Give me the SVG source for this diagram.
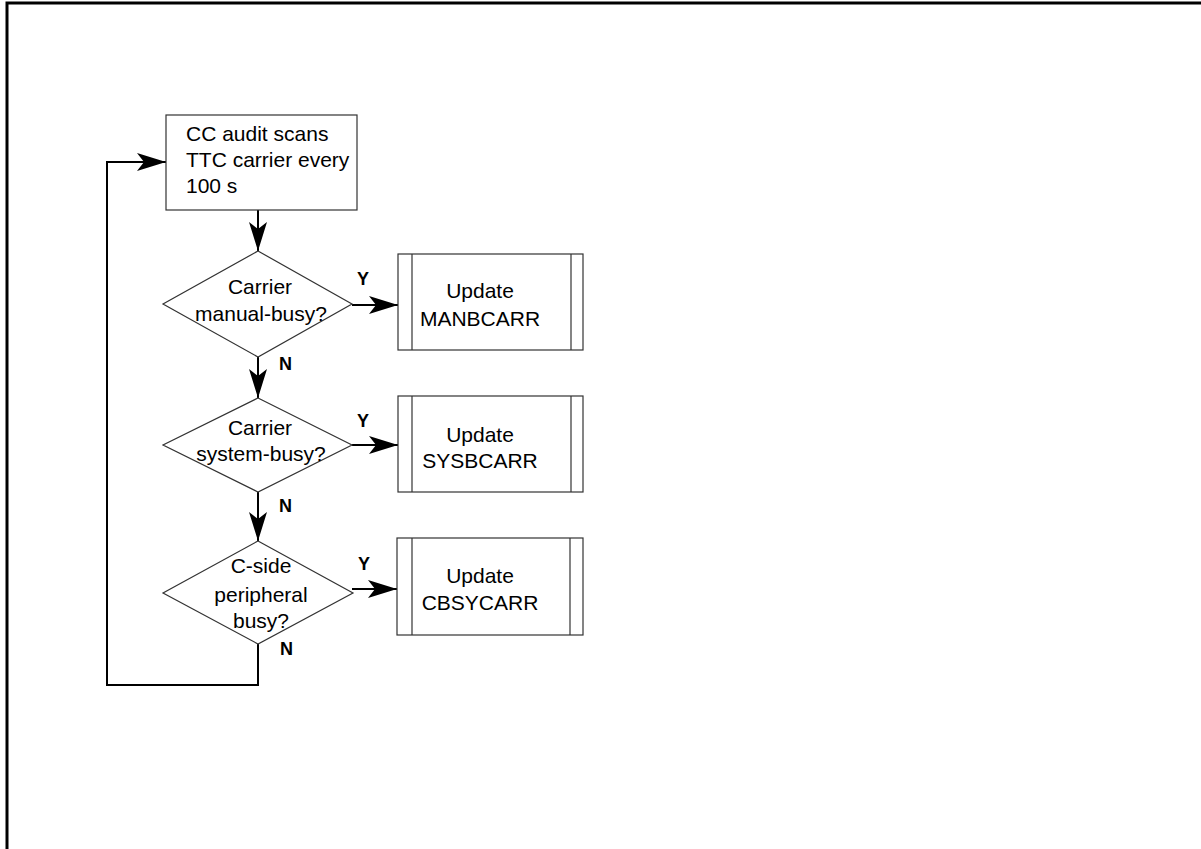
<svg xmlns="http://www.w3.org/2000/svg" width="1201" height="849" viewBox="0 0 1201 849">
<defs>
<marker id="ah" markerUnits="userSpaceOnUse" markerWidth="32" markerHeight="22" viewBox="-30 -11 32 22" refX="0" refY="0" orient="auto">
<path d="M0,0 L-29,-9 L-22,0 L-29,9 Z" fill="#000"/>
</marker>
</defs>
<style>
.shape{fill:#fff;stroke:#333;stroke-width:1.2}
.conn{fill:none;stroke:#000;stroke-width:2}
.t{font-family:"Liberation Sans",Arial,sans-serif;font-size:21px;fill:#000;text-anchor:middle}
.lbl{font-family:"Liberation Sans",Arial,sans-serif;font-size:18px;font-weight:bold;fill:#000}
</style>
<rect width="1201" height="849" fill="#fff"/>
<path d="M7,849 V3 H1201" fill="none" stroke="#000" stroke-width="3"/>

<g id="connectors">
<line class="conn" x1="258" y1="210" x2="258" y2="251" marker-end="url(#ah)"/>
<line class="conn" x1="258" y1="357" x2="258" y2="398" marker-end="url(#ah)"/>
<line class="conn" x1="258" y1="492" x2="258" y2="541" marker-end="url(#ah)"/>
<line class="conn" x1="352" y1="305" x2="398" y2="305" marker-end="url(#ah)"/>
<line class="conn" x1="352" y1="445" x2="398" y2="445" marker-end="url(#ah)"/>
<line class="conn" x1="352" y1="589" x2="397" y2="589" marker-end="url(#ah)"/>
<path class="conn" d="M258,644 V685 H107 V162 H166" marker-end="url(#ah)"/>
<text class="lbl" x="357" y="285">Y</text>
<text class="lbl" x="279" y="370">N</text>
<text class="lbl" x="357" y="427">Y</text>
<text class="lbl" x="279" y="512">N</text>
<text class="lbl" x="358" y="570">Y</text>
<text class="lbl" x="280" y="655">N</text>
</g>

<g id="start">
<rect class="shape" x="166" y="115" width="191" height="95"/>
<text class="t" style="text-anchor:start" x="186" y="141">CC audit scans</text>
<text class="t" style="text-anchor:start" x="186" y="167">TTC carrier every</text>
<text class="t" style="text-anchor:start" x="186" y="193">100 s</text>
</g>

<g id="d1">
<polygon class="shape" points="258,251 352,304 258,357 163,304"/>
<text class="t" x="260" y="294">Carrier</text>
<text class="t" x="261" y="321">manual-busy?</text>
</g>

<g id="p1">
<rect class="shape" x="398" y="254" width="185" height="96"/>
<line class="shape" x1="412" y1="254" x2="412" y2="350"/>
<line class="shape" x1="571" y1="254" x2="571" y2="350"/>
<text class="t" x="480" y="298">Update</text>
<text class="t" x="480" y="326">MANBCARR</text>
</g>

<g id="d2">
<polygon class="shape" points="258,398 352,445 258,492 163,445"/>
<text class="t" x="260" y="435">Carrier</text>
<text class="t" x="261" y="461">system-busy?</text>
</g>

<g id="p2">
<rect class="shape" x="398" y="396" width="185" height="96"/>
<line class="shape" x1="412" y1="396" x2="412" y2="492"/>
<line class="shape" x1="571" y1="396" x2="571" y2="492"/>
<text class="t" x="480" y="442">Update</text>
<text class="t" x="480" y="468">SYSBCARR</text>
</g>

<g id="d3">
<polygon class="shape" points="258,541 353,593 258,644 163,593"/>
<text class="t" x="261" y="573">C-side</text>
<text class="t" x="261" y="602">peripheral</text>
<text class="t" x="261" y="628">busy?</text>
</g>

<g id="p3">
<rect class="shape" x="397" y="538" width="186" height="97"/>
<line class="shape" x1="412" y1="538" x2="412" y2="635"/>
<line class="shape" x1="570" y1="538" x2="570" y2="635"/>
<text class="t" x="480" y="583">Update</text>
<text class="t" x="480" y="610">CBSYCARR</text>
</g>
</svg>
